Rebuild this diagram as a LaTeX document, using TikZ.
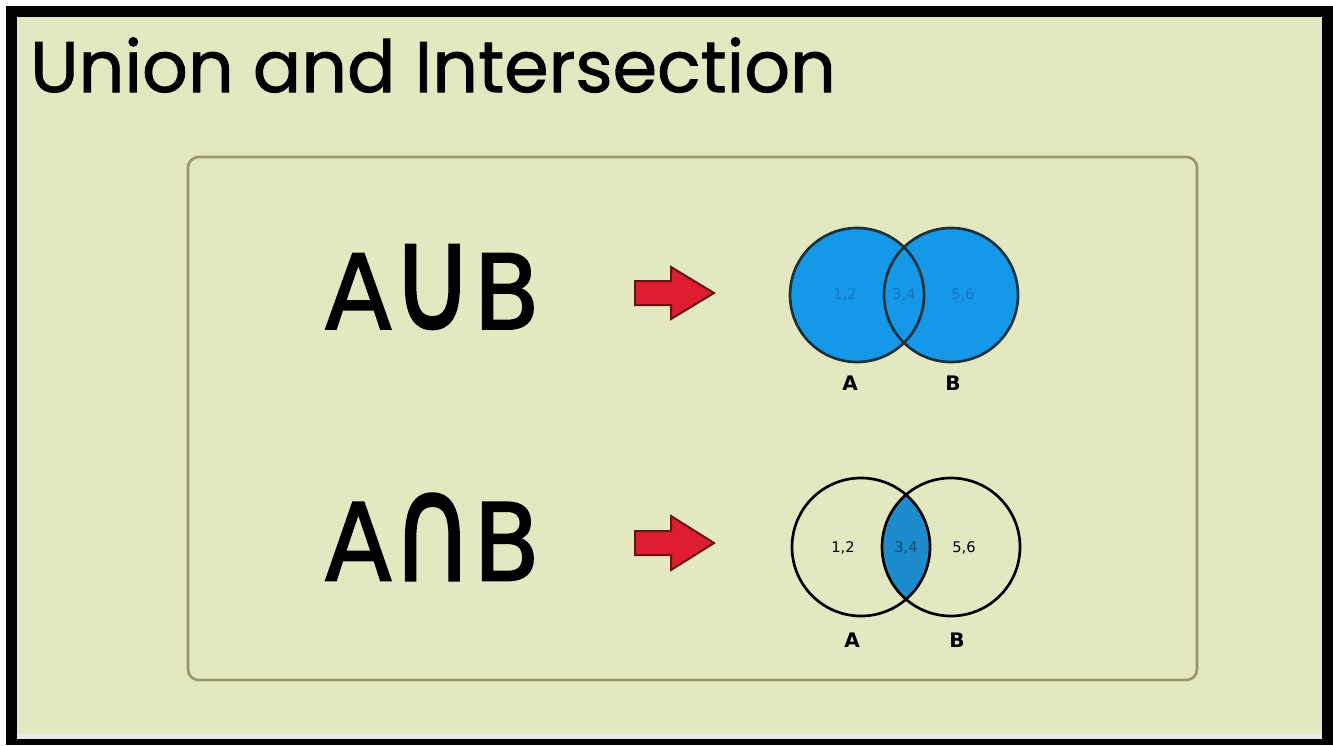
\documentclass[tikz,border=0pt]{standalone}
\usepackage{fontspec}
\usepackage{graphicx}
\setmainfont{DejaVu Sans}
\newfontfamily\titlefont[FakeBold=1.2]{Poppins}
\newfontfamily\symfont[FakeBold=1.8]{DejaVu Sans}
\definecolor{bgc}{RGB}{227,232,192}
\definecolor{framec}{RGB}{150,152,112}
\definecolor{venblue}{RGB}{22,152,232}
\definecolor{venline}{RGB}{25,50,60}
\definecolor{numblue}{RGB}{18,120,195}
\definecolor{capblue}{RGB}{28,140,205}
\definecolor{arrred}{RGB}{222,30,48}
\definecolor{arrdark}{RGB}{105,18,18}
\tikzset{
  bigsym/.style={anchor=center, inner sep=0pt},
  arrowshape/.style={fill=arrred, draw=arrdark, line width=1.5pt, line join=miter},
  setlabel/.style={font=\fontsize{15}{15}\selectfont\bfseries, inner sep=0pt},
  numlabel/.style={font=\fontsize{11}{11}\selectfont, inner sep=0pt},
}
\begin{document}
\begin{tikzpicture}[x=0.75pt,y=-0.75pt]
\useasboundingbox (0,0) rectangle (1333,745);
% page and frame
\fill[white] (0,0) rectangle (1333,745);
\fill[black] (6,6) rectangle (1333,745);
\fill[white!92!black] (17,733) rectangle (1322,739);
\fill[bgc] (17,17) rectangle (1322,734);
% title
\node[anchor=south west, inner sep=0pt] (title) at (30,93)
  {\resizebox{604pt}{41pt}{\titlefont Union and Intersection}};
% inner rounded frame
\draw[framec, line width=2pt, rounded corners=8pt] (188,157) rectangle (1197,680);
% A union B
\node[bigsym] (union) at (432.5,287)
  {\resizebox{161pt}{63pt}{\symfont A\scalebox{1.15}[1.4]{∪}B}};
\node[bigsym] (inter) at (432.5,537)
  {\resizebox{161pt}{65pt}{\symfont A\scalebox{1.15}[1.4]{∩}B}};
% red arrows
\path[arrowshape] (635,281) -- (671,281) -- (671,267) -- (714,293) -- (671,319) -- (671,305) -- (635,305) -- cycle;
\path[arrowshape] (635,531) -- (671,531) -- (671,516) -- (714,543) -- (671,570) -- (671,555) -- (635,555) -- cycle;
% union Venn
\fill[venblue] (857,295) circle (67);
\fill[venblue] (951,295) circle (67);
\draw[venline, line width=2pt] (857,295) circle (67);
\draw[venline, line width=2pt] (951,295) circle (67);
\node[numlabel, text=numblue] (u12) at (845,295) {1,2};
\node[numlabel, text=numblue] (u34) at (904,295) {3,4};
\node[numlabel, text=numblue] (u56) at (963,295) {5,6};
\node[setlabel] (ua) at (850,383) {A};
\node[setlabel] (ub) at (953,383) {B};
% intersection Venn
\begin{scope}
  \clip (861,547) circle (69);
  \fill[capblue] (951,547) circle (69);
\end{scope}
\draw[black, line width=2pt] (861,547) circle (69);
\draw[black, line width=2pt] (951,547) circle (69);
\node[numlabel] (i12) at (843,548) {1,2};
\node[numlabel, text=numblue!60!black] (i34) at (906,548) {3,4};
\node[numlabel] (i56) at (964,548) {5,6};
\node[setlabel] (ia) at (852,640) {A};
\node[setlabel] (ib) at (957,640) {B};
\end{tikzpicture}
\end{document}
